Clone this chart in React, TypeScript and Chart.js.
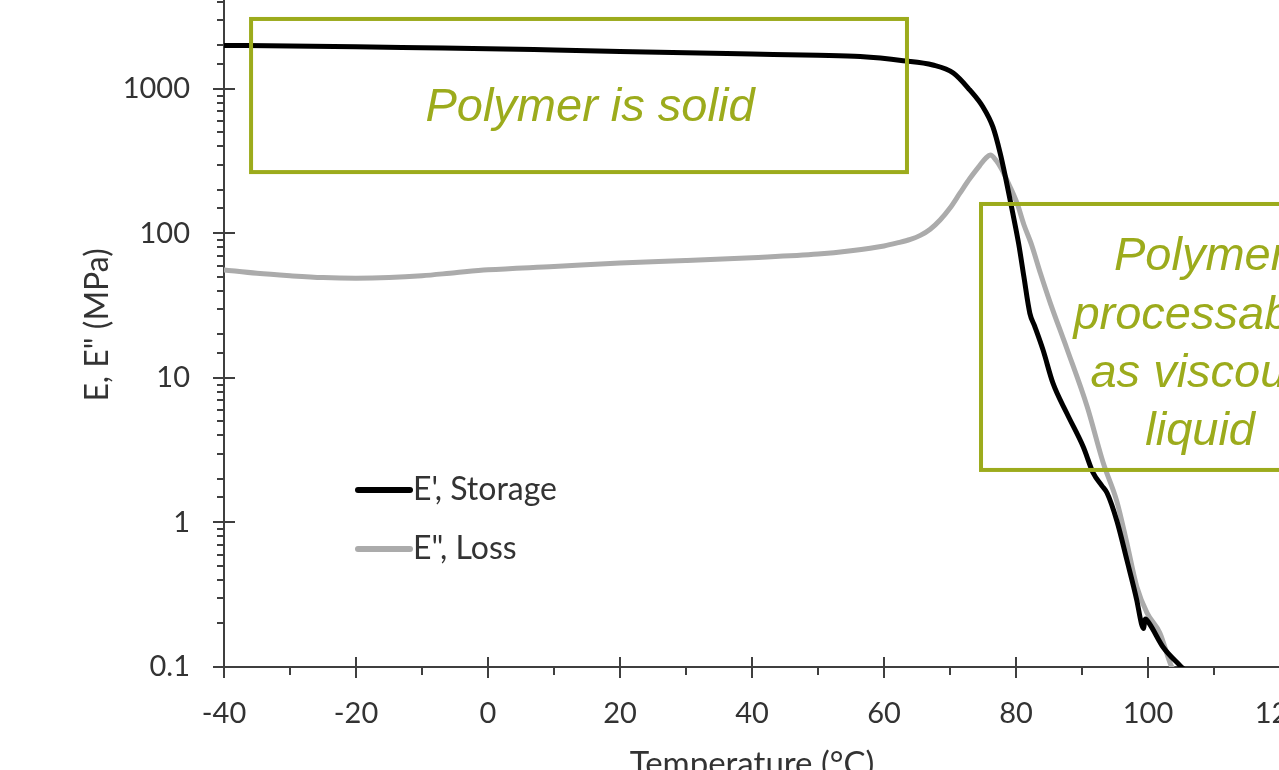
import React, { useEffect, useRef } from 'react';
import { Chart, registerables } from 'chart.js';

Chart.register(...registerables);

// ---- data ----
const storageTemp = [-40, -30, -20, -10, 0, 10, 20, 30, 40, 50, 56.4, 62.9, 67.4, 70.5, 73.0, 75.0, 76.5, 77.6, 78.5, 79.5, 80.4, 81.2, 82.1, 82.8, 84.1, 85.6, 87.7, 90.2, 91.7, 93.0, 93.8, 95.3, 96.8, 98.3, 99.0, 99.3, 99.6, 100.2, 102.3, 104.8, 105.6];
const storageModulus = [2000, 1985, 1960, 1930, 1900, 1860, 1820, 1780, 1745, 1710, 1675, 1570, 1466, 1290, 984, 750, 546, 360, 234, 139, 85, 50, 28, 23, 15.6, 9.2, 5.7, 3.33, 2.2, 1.8, 1.6, 1.02, 0.55, 0.29, 0.2, 0.185, 0.215, 0.2, 0.137, 0.103, 0.095];

const lossTemp = [-40, -35, -30, -25, -20, -15, -10, -5, 0, 10, 20, 30, 40, 50, 55, 60, 62, 64, 65.5, 67, 68.5, 70, 71.5, 73, 74.5, 75.5, 76.1, 77.0, 77.8, 79.0, 80.2, 81.2, 82.3, 83.7, 85.2, 87.7, 90.8, 93.2, 95.3, 96.8, 98.3, 99.85, 101.8, 103.6, 104.0];
const lossModulus = [56, 53, 51, 49.5, 49, 49.5, 51, 53.5, 56, 59, 62.5, 65, 68, 72, 76, 82, 86, 91, 97, 107, 124, 150, 190, 240, 295, 335, 349, 320, 280, 215, 160, 115, 85, 53, 33, 16, 6.3, 2.6, 1.39, 0.72, 0.36, 0.237, 0.172, 0.1, 0.095];

const seriesLabels = ["E', Storage", 'E", Loss'];
const xTickLabels = ['-40', '-20', '0', '20', '40', '60', '80', '100', '120'];
const yTickLabels = ['0.1', '1', '10', '100', '1000'];

const boxLabels = [['Polymer is solid'], ['Polymer', 'processable', 'as viscous', 'liquid']];

// ---- styles / layout ----
const CANVAS_W = 1400;
const CANVAS_H = 840;
const CANVAS_TOP = -40;
const AXIS = '#3f3f3f';
const TEXT = '#333333';
const GREEN = '#9cab1c';
const FONT = 'Lato, "Noto Sans", sans-serif';
const BOX_FONT = 'italic 47px "Liberation Sans", Arial, sans-serif';

const boxes = [
  { xMin: -35.9, xMax: 63.48, yMin: 266, yMax: 3051, textX: 15.45, textY: [600] },
  { xMin: 74.7, xMax: 141, yMin: 2.31, yMax: 160, textX: 107.9, textY: [55.9, 21.8, 8.67, 3.44] },
];

const legendPos = { x1: 358, x2: 410, textX: 413, ys: [490, 549] };

const isPow10 = (v: number) => {
  const l = Math.log10(v);
  return Math.abs(l - Math.round(l)) < 1e-6;
};

const axisTicksPlugin = {
  id: 'axisTicks',
  afterDatasetsDraw(chart: any) {
    const { ctx, chartArea, scales } = chart;
    const x = scales.x;
    const y = scales.y;
    ctx.save();
    ctx.strokeStyle = AXIS;
    ctx.lineWidth = 2;
    const axisY = chartArea.bottom;
    const axisX = chartArea.left;
    x.ticks.forEach((t: any) => {
      const px = Math.round(x.getPixelForValue(t.value));
      const major = Math.round(t.value) % 20 === 0;
      ctx.beginPath();
      ctx.moveTo(px, major ? axisY - 10 : axisY);
      ctx.lineTo(px, axisY + (major ? 11 : 8));
      ctx.stroke();
    });
    y.ticks.forEach((t: any) => {
      const py = Math.round(y.getPixelForValue(t.value));
      if (py < chartArea.top - 1 || py > chartArea.bottom + 1) return;
      const major = isPow10(t.value);
      ctx.beginPath();
      ctx.moveTo(major ? axisX - 11 : axisX - 7, py);
      ctx.lineTo(major ? axisX + 11 : axisX, py);
      ctx.stroke();
    });
    ctx.restore();
  },
};

const boxesPlugin = {
  id: 'phaseBoxes',
  afterDatasetsDraw(chart: any) {
    const { ctx, scales } = chart;
    const x = scales.x;
    const y = scales.y;
    ctx.save();
    boxes.forEach((b, i) => {
      const l = x.getPixelForValue(b.xMin);
      const r = x.getPixelForValue(b.xMax);
      const t = y.getPixelForValue(b.yMax);
      const btm = y.getPixelForValue(b.yMin);
      ctx.strokeStyle = GREEN;
      ctx.lineWidth = 4;
      ctx.strokeRect(l, t, r - l, btm - t);
      ctx.fillStyle = GREEN;
      ctx.font = BOX_FONT;
      ctx.textAlign = 'center';
      ctx.textBaseline = 'alphabetic';
      const tx = x.getPixelForValue(b.textX);
      boxLabels[i].forEach((line, j) => {
        ctx.fillText(line, tx, y.getPixelForValue(b.textY[j]));
      });
    });
    ctx.restore();
  },
};

const legendPlugin = {
  id: 'insideLegend',
  afterDraw(chart: any) {
    const { ctx } = chart;
    ctx.save();
    chart.data.datasets.forEach((ds: any, i: number) => {
      const yy = legendPos.ys[i] - CANVAS_TOP;
      ctx.strokeStyle = ds.borderColor;
      ctx.lineWidth = 6;
      ctx.lineCap = 'round';
      ctx.beginPath();
      ctx.moveTo(legendPos.x1, yy);
      ctx.lineTo(legendPos.x2, yy);
      ctx.stroke();
      ctx.fillStyle = TEXT;
      ctx.font = `32px ${FONT}`;
      ctx.textAlign = 'left';
      ctx.textBaseline = 'middle';
      ctx.fillText(ds.label, legendPos.textX, yy);
    });
    ctx.restore();
  },
};

export default function App() {
  const ref = useRef<HTMLCanvasElement>(null);

  useEffect(() => {
    if (!ref.current) return;
    const chart = new Chart(ref.current, {
      type: 'line',
      data: {
        datasets: [
          {
            label: seriesLabels[0],
            data: storageTemp.map((t, i) => ({ x: t, y: storageModulus[i] })),
            borderColor: '#000000',
            backgroundColor: '#000000',
            borderWidth: 5,
            pointRadius: 0,
            cubicInterpolationMode: 'monotone',
            borderJoinStyle: 'round',
            borderCapStyle: 'round',
            fill: false,
          },
          {
            label: seriesLabels[1],
            data: lossTemp.map((t, i) => ({ x: t, y: lossModulus[i] })),
            borderColor: '#ababab',
            backgroundColor: '#ababab',
            borderWidth: 5,
            pointRadius: 0,
            cubicInterpolationMode: 'monotone',
            borderJoinStyle: 'round',
            borderCapStyle: 'round',
            fill: false,
          },
        ],
      },
      options: {
        responsive: false,
        animation: false,
        events: [],
        layout: { padding: { top: 22.9, right: 120, left: 0, bottom: 0 } },
        plugins: {
          legend: { display: false },
          tooltip: { enabled: false },
          title: { display: false },
        },
        scales: {
          x: {
            type: 'linear',
            min: -40,
            max: 120,
            grid: { display: false, drawTicks: false },
            border: { display: true, color: AXIS, width: 2 },
            ticks: {
              stepSize: 10,
              autoSkip: false,
              maxRotation: 0,
              padding: 29,
              color: TEXT,
              font: { family: FONT, size: 29 },
              callback: (v: any) => {
                const n = Number(v);
                if (Math.round(n) % 20 !== 0) return '';
                return xTickLabels[(Math.round(n) + 40) / 20] ?? '';
              },
            },
            title: {
              display: true,
              text: 'Temperature (°C)',
              color: TEXT,
              font: { family: FONT, size: 33 },
              padding: { top: 0, bottom: 16 },
            },
            afterFit: (s: any) => {
              s.height = 133;
              s.paddingLeft = 0;
              s.paddingRight = 0;
            },
          },
          y: {
            type: 'logarithmic',
            min: 0.1,
            max: 5420,
            grid: { display: false, drawTicks: false },
            border: { display: true, color: AXIS, width: 2 },
            ticks: {
              autoSkip: false,
              padding: 34,
              color: TEXT,
              font: { family: FONT, size: 29 },
              callback: (v: any) => {
                const n = Number(v);
                if (!isPow10(n)) return '';
                const idx = Math.round(Math.log10(n)) + 1;
                return yTickLabels[idx] ?? '';
              },
            },
            title: {
              display: true,
              text: 'E, E" (MPa)',
              color: TEXT,
              font: { family: FONT, size: 32 },
              padding: { top: 78, bottom: 0 },
            },
            afterFit: (s: any) => {
              s.width = 224;
              s.paddingTop = 0;
              s.paddingBottom = 0;
            },
          },
        },
      },
      plugins: [axisTicksPlugin, boxesPlugin, legendPlugin],
    } as any);
    return () => chart.destroy();
  }, []);

  return (
    <div
      style={{
        position: 'fixed',
        left: 0,
        top: 0,
        width: 1279,
        height: 770,
        overflow: 'hidden',
        background: '#ffffff',
      }}
    >
      <canvas
        ref={ref}
        width={CANVAS_W}
        height={CANVAS_H}
        style={{ position: 'absolute', left: 0, top: CANVAS_TOP, width: CANVAS_W, height: CANVAS_H }}
      />
    </div>
  );
}
